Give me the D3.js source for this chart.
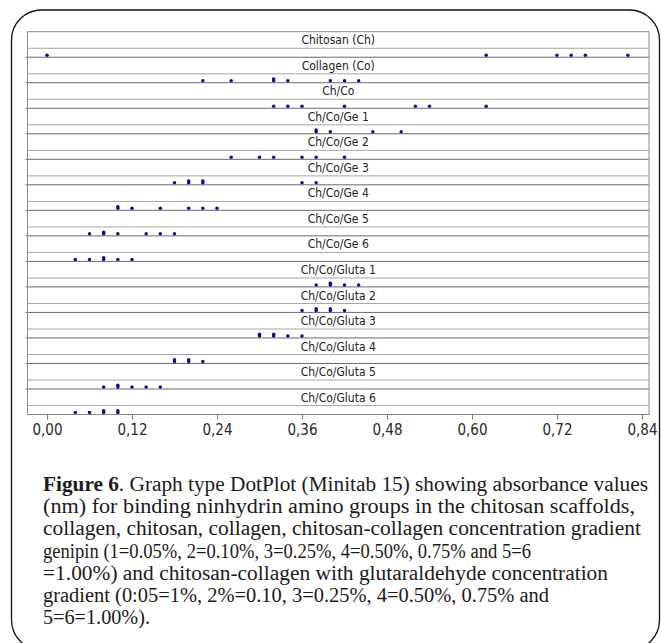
<!DOCTYPE html>
<html>
<head>
<meta charset="utf-8">
<script src="https://cdn.jsdelivr.net/npm/d3@7"></script>
<style>
  body { margin: 0; background: #fff; }
  svg { display: block; }
</style>
</head>
<body>
<svg id="chart" width="662" height="643"></svg>
<script>
//  1] Data ---------------------------------------//
const groups = ["Chitosan (Ch)", "Collagen (Co)", "Ch/Co",
  "Ch/Co/Ge 1", "Ch/Co/Ge 2", "Ch/Co/Ge 3", "Ch/Co/Ge 4", "Ch/Co/Ge 5", "Ch/Co/Ge 6",
  "Ch/Co/Gluta 1", "Ch/Co/Gluta 2", "Ch/Co/Gluta 3", "Ch/Co/Gluta 4", "Ch/Co/Gluta 5", "Ch/Co/Gluta 6"]

const chitosan = [0.00, 0.62, 0.72, 0.74, 0.76, 0.82]
const collagen = [0.22, 0.26, 0.32, 0.32, 0.34, 0.40, 0.42, 0.44]
const chCo     = [0.32, 0.34, 0.36, 0.42, 0.52, 0.54, 0.62]
const ge1      = [0.38, 0.38, 0.40, 0.46, 0.50]
const ge2      = [0.26, 0.30, 0.32, 0.36, 0.38, 0.42]
const ge3      = [0.18, 0.20, 0.20, 0.22, 0.22, 0.36, 0.38]
const ge4      = [0.10, 0.10, 0.12, 0.16, 0.20, 0.22, 0.24]
const ge5      = [0.06, 0.08, 0.08, 0.10, 0.14, 0.16, 0.18]
const ge6      = [0.04, 0.06, 0.08, 0.08, 0.10, 0.12]
const gluta1   = [0.38, 0.40, 0.40, 0.42, 0.44]
const gluta2   = [0.36, 0.38, 0.38, 0.40, 0.40, 0.42]
const gluta3   = [0.30, 0.30, 0.32, 0.32, 0.34, 0.36]
const gluta4   = [0.18, 0.18, 0.20, 0.20, 0.22]
const gluta5   = [0.08, 0.10, 0.10, 0.12, 0.14, 0.16]
const gluta6   = [0.04, 0.06, 0.08, 0.08, 0.10, 0.10]

const tickValues = [0, 0.12, 0.24, 0.36, 0.48, 0.60, 0.72, 0.84]
const tickLabels = ["0,00", "0,12", "0,24", "0,36", "0,48", "0,60", "0,72", "0,84"]

const captionLines = [
  ". Graph type DotPlot (Minitab 15) showing absorbance values",
  "(nm) for binding ninhydrin amino groups in the chitosan scaffolds,",
  "collagen, chitosan, collagen, chitosan-collagen concentration gradient",
  "genipin (1=0.05%, 2=0.10%, 3=0.25%, 4=0.50%, 0.75% and 5=6",
  "=1.00%) and chitosan-collagen with glutaraldehyde concentration",
  "gradient (0:05=1%, 2%=0.10, 3=0.25%, 4=0.50%, 0.75% and",
  "5=6=1.00%)."
]
// measured width of each caption line in the reference (px)
const captionWidths = [605, 592, 598, 488, 565, 506, 107]

const series = [chitosan, collagen, chCo, ge1, ge2, ge3, ge4, ge5, ge6,
  gluta1, gluta2, gluta3, gluta4, gluta5, gluta6]

//  2] Settings -----------------------------------//
const plotLeft = 27.5, plotRight = 649, plotTop = 31.7, plotBottom = 414.5
const dotR = 1.75, stackStep = 1.7
const dotColor = "#0c0c90"
const sansC = "'DejaVu Sans Condensed', 'DejaVu Sans', sans-serif"

const svg = d3.select("#chart")

// outer rounded frame
svg.append("rect")
  .attr("x", 11.5).attr("y", 10)
  .attr("width", 648).attr("height", 640)
  .attr("rx", 30)
  .attr("fill", "none")
  .attr("stroke", "#111")
  .attr("stroke-width", 1.3)

//  3] Scales -------------------------------------//
const xScale = d3.scaleLinear().domain([0, 0.84]).range([47, 642])
const yScale = d3.scaleBand().domain(groups).range([plotTop, plotBottom])
const band = yScale.bandwidth()
const labelH = band * 0.65

//  4] Panels -------------------------------------//
const panel = svg.append("g")
  .selectAll("g")
  .data(groups)
  .join("g")
  .attr("transform", d => `translate(0,${yScale(d)})`)

// line under the header strip
panel.append("line")
  .attr("x1", plotLeft).attr("x2", plotRight)
  .attr("y1", labelH).attr("y2", labelH)
  .attr("stroke", "#a6a6a6")

// panel bottom line
panel.filter((d, i) => i < groups.length - 1)
  .append("line")
  .attr("x1", plotLeft - 2).attr("x2", plotRight)
  .attr("y1", band).attr("y2", band)
  .attr("stroke", "#6a6a6a")

panel.append("text")
  .attr("x", (plotLeft + plotRight) / 2)
  .attr("y", labelH / 2)
  .attr("dy", "0.36em")
  .attr("text-anchor", "middle")
  .style("font-family", sansC)
  .style("font-stretch", "condensed")
  .style("font-size", "12px")
  .attr("fill", "#222")
  .text(d => d)

//  5] Dots (stacked for repeated values) ---------//
panel.each(function (g, i) {
  const seen = {}
  const pts = series[i].map(v => {
    const k = seen[v] || 0
    seen[v] = k + 1
    return { v: v, k: k }
  })
  d3.select(this).selectAll("circle")
    .data(pts)
    .join("circle")
    .attr("cx", d => xScale(d.v))
    .attr("cy", d => band - 2 - d.k * stackStep)
    .attr("r", dotR)
    .attr("fill", dotColor)
})

// plot box
svg.append("rect")
  .attr("x", plotLeft).attr("y", plotTop)
  .attr("width", plotRight - plotLeft).attr("height", plotBottom - plotTop)
  .attr("fill", "none")
  .attr("stroke", "#8a8a8a")

//  6] X axis -------------------------------------//
const xAxis = d3.axisBottom(xScale)
  .tickValues(tickValues)
  .tickFormat((d, i) => tickLabels[i])
  .tickSize(5)
  .tickSizeOuter(0)
  .tickPadding(5)

const ax = svg.append("g")
  .attr("transform", `translate(0,${plotBottom})`)
  .call(xAxis)
ax.select(".domain").remove()
ax.selectAll("line").attr("stroke", "#777")
ax.selectAll("text")
  .style("font-family", sansC)
  .style("font-stretch", "condensed")
  .style("font-size", "15px")
  .attr("fill", "#2a2a2a")

//  7] Caption ------------------------------------//
const cap = svg.append("g")
  .style("font-family", "'Liberation Serif', 'Times New Roman', serif")
  .style("font-size", "20px")
  .attr("fill", "#1c1a1b")

captionLines.forEach((line, i) => {
  const t = cap.append("text")
    .attr("x", 43)
    .attr("y", 491 + i * 22.2)
    .attr("textLength", captionWidths[i])
    .attr("lengthAdjust", "spacingAndGlyphs")
  if (i === 0) {
    t.append("tspan").attr("font-weight", "bold").text("Figure 6")
  }
  t.append("tspan").text(line)
})
</script>
</body>
</html>
